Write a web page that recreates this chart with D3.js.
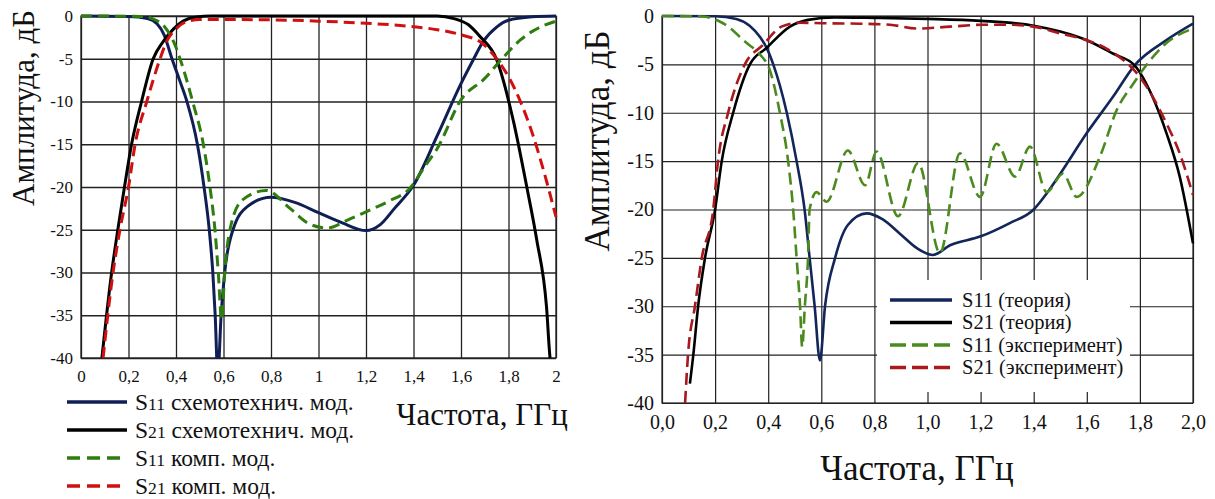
<!DOCTYPE html>
<html>
<head>
<meta charset="utf-8">
<script src="https://cdn.jsdelivr.net/npm/d3@7"></script>
<style>
  body { margin: 0; background: #fff; }
  svg { display: block; font-family: 'Liberation Serif', 'Times New Roman', serif; }
  svg text { font-family: 'Liberation Serif', 'Times New Roman', serif; }
  .grid line { stroke: #222; }
  .grid path { display: none; }
</style>
</head>
<body>
<svg id="chart" width="1215" height="499"></svg>
<script>
// DATA: [frequency GHz, amplitude dB]
const xTicks = [0, 0.2, 0.4, 0.6, 0.8, 1, 1.2, 1.4, 1.6, 1.8, 2];
const yTicks = [0, -5, -10, -15, -20, -25, -30, -35, -40];

// left panel
const leftS11Sch = [[0,0],[0.2,-0.05],[0.28,-0.3],[0.32,-0.9],[0.35,-2.2],[0.383,-5],[0.415,-7.5],[0.446,-10],[0.49,-15],[0.518,-20],[0.54,-25],[0.555,-30],[0.565,-35],[0.576,-42],[0.59,-35],[0.605,-30],[0.64,-25],[0.7,-22.3],[0.8,-21.2],[0.9,-21.8],[1.0,-23],[1.1,-24.2],[1.2,-25.1],[1.26,-24.4],[1.32,-22.5],[1.4,-19.8],[1.5,-14],[1.6,-7.9],[1.65,-5.2],[1.693,-3],[1.75,-1.3],[1.8,-0.5],[1.9,-0.1],[2,0]];
const leftS21Sch = [[0.088,-40],[0.129,-30],[0.155,-25],[0.183,-20],[0.213,-15],[0.255,-10],[0.304,-5],[0.346,-3],[0.39,-1.5],[0.43,-0.6],[0.48,-0.15],[0.55,0],[1.5,0],[1.57,-0.3],[1.63,-1],[1.68,-2.4],[1.75,-5.1],[1.82,-12.2],[1.877,-20],[1.919,-26.2],[1.96,-34],[1.975,-40],[1.98,-41]];
const leftS11Comp = [[0,0],[0.25,-0.05],[0.3,-0.3],[0.35,-1.2],[0.39,-3],[0.417,-5],[0.47,-10],[0.515,-15],[0.543,-20],[0.564,-25],[0.578,-30],[0.592,-35.5],[0.605,-30],[0.627,-25],[0.68,-21.5],[0.78,-20.4],[0.88,-22.5],[0.96,-24.3],[1.035,-24.8],[1.12,-23.9],[1.2,-22.9],[1.3,-21.6],[1.38,-20.3],[1.45,-17.5],[1.5,-15.5],[1.6,-9.8],[1.7,-7.3],[1.776,-4.9],[1.85,-2.8],[1.9,-1.8],[2,-0.6]];
const leftS21Comp = [[0.093,-40],[0.135,-30],[0.164,-25],[0.2,-20],[0.228,-15],[0.277,-10],[0.333,-5],[0.36,-3],[0.4,-1.5],[0.44,-0.7],[0.5,-0.4],[0.8,-0.45],[1.0,-0.6],[1.2,-0.85],[1.4,-1.25],[1.5,-1.6],[1.6,-2.2],[1.69,-3.2],[1.75,-5],[1.8,-7.1],[1.85,-10],[1.9,-13.7],[1.95,-18.3],[2,-23.5]];

// right panel
const rightS11Theory = [[0,0],[0.2,-0.02],[0.28,-0.3],[0.33,-1],[0.37,-2.2],[0.394,-3.3],[0.419,-5],[0.47,-10],[0.507,-15],[0.537,-20],[0.556,-25],[0.575,-30],[0.595,-35.6],[0.614,-30],[0.652,-25],[0.7,-21.6],[0.771,-20.4],[0.83,-21],[0.896,-22.5],[0.96,-24],[1.02,-24.7],[1.085,-23.7],[1.198,-22.8],[1.31,-21.4],[1.4,-20],[1.45,-18.3],[1.5,-16.3],[1.6,-12.1],[1.7,-8.3],[1.78,-5.1],[1.9,-2.5],[2,-0.8]];
const rightS21Theory = [[0.105,-38],[0.118,-35],[0.136,-30],[0.162,-25],[0.2,-20],[0.225,-15],[0.268,-10],[0.331,-5],[0.394,-3.3],[0.482,-1.1],[0.55,-0.4],[0.65,-0.15],[0.8,-0.2],[1.0,-0.3],[1.2,-0.5],[1.4,-1.0],[1.5,-1.6],[1.6,-2.5],[1.7,-3.9],[1.78,-5.1],[1.85,-8.5],[1.9,-12.1],[1.95,-16.6],[2,-23.5]];
const rightS11Exp = [[0,0],[0.15,-0.05],[0.23,-0.75],[0.319,-2.8],[0.37,-4],[0.405,-5.5],[0.444,-10],[0.475,-15],[0.494,-20],[0.507,-25],[0.52,-30],[0.528,-34.2],[0.538,-30],[0.55,-25],[0.556,-20],[0.582,-18.2],[0.62,-19.2],[0.7,-13.9],[0.765,-17.5],[0.808,-14],[0.889,-20.7],[0.965,-15.2],[1.047,-24.5],[1.122,-14.2],[1.198,-18.7],[1.26,-13.2],[1.33,-16.6],[1.386,-13.5],[1.449,-18.2],[1.51,-16.3],[1.562,-18.7],[1.65,-14.5],[1.713,-9.7],[1.775,-7],[1.838,-4.6],[1.9,-2.8],[2,-1.3]];
const rightS21Exp = [[0.087,-40],[0.098,-35],[0.124,-30],[0.15,-25],[0.193,-20],[0.211,-15],[0.249,-10],[0.312,-5],[0.38,-3],[0.45,-1.1],[0.52,-0.7],[0.607,-0.75],[0.75,-0.8],[0.859,-0.9],[0.959,-1.3],[1.085,-1.1],[1.21,-0.9],[1.3,-0.9],[1.4,-1.1],[1.5,-1.8],[1.6,-2.5],[1.7,-3.8],[1.8,-6.3],[1.9,-11.1],[1.95,-14.2],[2,-18.5]];

const leftNames = ['схемотехнич. мод.', 'схемотехнич. мод.', 'комп. мод.', 'комп. мод.'];
const rightNames = ['(теория)', '(теория)', '(эксперимент)', '(эксперимент)'];
const paramNames = ['S', 'S', 'S', 'S'];
const paramIdx = ['11', '21', '11', '21'];

// SETUP
const svg = d3.select('#chart');
const serif = "'Liberation Serif', 'Times New Roman', serif";
const commaFmt = d => String(d).replace('.', ',');

function panel(o) {
  const x = d3.scaleLinear().domain([0, 2]).range([o.left, o.right]);
  const y = d3.scaleLinear().domain([-40, 0]).range([o.bottom, o.top]);
  const g = svg.append('g');
  const clipId = 'clip' + o.id;
  svg.append('clipPath').attr('id', clipId)
    .append('rect')
    .attr('x', o.left - 2).attr('y', o.top - 4)
    .attr('width', o.right - o.left + 4).attr('height', o.bottom - o.top + 4);

  // GRID + AXES
  g.append('g').attr('class', 'grid')
    .attr('transform', 'translate(0,' + o.bottom + ')')
    .call(d3.axisBottom(x).tickValues(xTicks).tickSize(-(o.bottom - o.top)).tickFormat(o.xFmt).tickPadding(o.xPad))
    .attr('font-family', serif)
    .call(a => a.selectAll('line').attr('stroke-width', o.gridW))
    .call(a => a.selectAll('text').attr('fill', '#111').style('font-size', o.tickSize + 'px'));
  g.append('g').attr('class', 'grid')
    .attr('transform', 'translate(' + o.left + ',0)')
    .call(d3.axisLeft(y).tickValues(yTicks).tickSize(-(o.right - o.left)).tickFormat(d => d === 0 ? '0' : '-' + Math.abs(d)).tickPadding(o.yPad))
    .attr('font-family', serif)
    .call(a => a.selectAll('line').attr('stroke-width', o.gridW))
    .call(a => a.selectAll('text').attr('fill', '#111').style('font-size', o.tickSize + 'px'));
  // frame
  g.append('rect')
    .attr('x', o.left).attr('y', o.top)
    .attr('width', o.right - o.left).attr('height', o.bottom - o.top)
    .attr('fill', 'none').attr('stroke', '#222').attr('stroke-width', o.gridW);

  // legend box (right panel hides grid under it)
  if (o.legendBox) {
    g.append('rect')
      .attr('x', o.legendBox[0]).attr('y', o.legendBox[1])
      .attr('width', o.legendBox[2]).attr('height', o.legendBox[3])
      .attr('fill', '#fff');
  }

  // LINES
  const line = d3.line().x(d => x(d[0])).y(d => y(d[1])).curve(d3.curveMonotoneX);
  const lines = g.append('g').attr('clip-path', 'url(#' + clipId + ')');
  o.series.forEach(s => {
    lines.append('path')
      .datum(s.data)
      .attr('d', line)
      .attr('fill', 'none')
      .attr('stroke', s.color)
      .attr('stroke-width', o.lineW)
      .attr('stroke-dasharray', s.dash ? o.dash : null)
      .attr('stroke-linejoin', 'round');
  });

  // AXIS LABELS
  g.append('text')
    .attr('transform', 'translate(' + o.yLab[0] + ',' + o.yLab[1] + ') rotate(-90)')
    .attr('text-anchor', 'middle')
    .style('font-size', o.labSize + 'px')
    .attr('fill', '#111')
    .text('Амплитуда, дБ');
  g.append('text')
    .attr('x', o.xLab[0]).attr('y', o.xLab[1])
    .attr('text-anchor', 'middle')
    .style('font-size', o.labSize + 'px')
    .attr('fill', '#111')
    .text('Частота, ГГц');

  // LEGEND
  const lg = g.append('g');
  o.series.forEach((s, i) => {
    const yy = o.legend.y + i * o.legend.step;
    lg.append('line')
      .attr('x1', o.legend.x).attr('x2', o.legend.x + o.legend.len)
      .attr('y1', yy).attr('y2', yy)
      .attr('stroke', s.color).attr('stroke-width', o.legend.w)
      .attr('stroke-dasharray', s.dash ? o.legend.dash : null);
    const t = lg.append('text')
      .attr('x', o.legend.x + o.legend.len + o.legend.gap)
      .attr('y', yy + o.legend.size * 0.33)
      .style('font-size', o.legend.size + 'px')
      .attr('fill', '#111');
    t.append('tspan').text(paramNames[i]);
    t.append('tspan').style('font-size', (o.legend.size * o.legend.idxScale) + 'px').text(paramIdx[i]);
    t.append('tspan').text(' ' + s.name);
  });
}

panel({
  id: 'L', left: 81, right: 556, top: 16, bottom: 358,
  gridW: 1.3, lineW: 3, dash: '11,6', tickSize: 17, xPad: 12, yPad: 8,
  xFmt: d => commaFmt(d), labSize: 31,
  yLab: [34, 108], xLab: [482, 425],
  series: [
    { data: leftS11Sch, color: '#0f1f55', dash: false, name: leftNames[0] },
    { data: leftS21Sch, color: '#000000', dash: false, name: leftNames[1] },
    { data: leftS11Comp, color: '#2e7d0e', dash: true, name: leftNames[2] },
    { data: leftS21Comp, color: '#d01010', dash: true, name: leftNames[3] }
  ],
  legend: { x: 67, y: 402, step: 28, len: 60, gap: 8, w: 3.5, dash: '13,7', size: 23.5, idxScale: 0.75 }
});

panel({
  id: 'R', left: 662, right: 1193, top: 16, bottom: 403,
  gridW: 1.2, lineW: 2.6, dash: '12,6', tickSize: 20, xPad: 12, yPad: 8,
  xFmt: d => d3.format('.1f')(d).replace('.', ','), labSize: 35,
  yLab: [609, 141], xLab: [917, 480],
  legendBox: [877, 280, 253, 112],
  series: [
    { data: rightS11Theory, color: '#13265a', dash: false, name: rightNames[0] },
    { data: rightS21Theory, color: '#000000', dash: false, name: rightNames[1] },
    { data: rightS11Exp, color: '#4a8a1e', dash: true, name: rightNames[2] },
    { data: rightS21Exp, color: '#a8181c', dash: true, name: rightNames[3] }
  ],
  legend: { x: 890, y: 300, step: 22.5, len: 62, gap: 10, w: 3.5, dash: '16,6', size: 20.5, idxScale: 1 }
});
</script>
</body>
</html>
